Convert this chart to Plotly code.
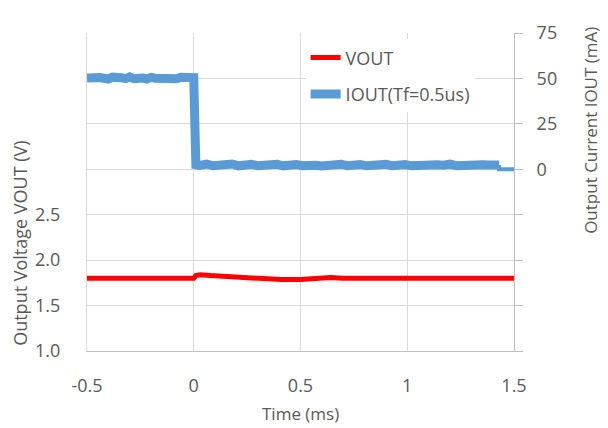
import plotly.graph_objects as go

# VOUT (V) vs time (ms)
vout_t = [-0.5, 0.0, 0.01, 0.03, 0.08, 0.17, 0.3, 0.41, 0.5, 0.53, 0.56, 0.64, 0.7, 1.0, 1.5]
vout_v = [1.80, 1.80, 1.83, 1.84, 1.83, 1.815, 1.80, 1.786, 1.786, 1.79, 1.80, 1.81, 1.80, 1.80, 1.80]

# IOUT (mA) vs time (ms)
iout_t = [-0.5, -0.48, -0.46, -0.44, -0.42, -0.4, -0.38, -0.36, -0.34, -0.32, -0.3, -0.28,
          -0.26, -0.24, -0.22, -0.2, -0.18, -0.16, -0.14, -0.12, -0.1, -0.08, -0.06, -0.04,
          -0.02, 0.0, 0.004, 0.01,
          0.03, 0.06, 0.09, 0.12, 0.15, 0.18, 0.21, 0.24, 0.27, 0.3, 0.33, 0.36, 0.39, 0.42,
          0.45, 0.48, 0.51, 0.54, 0.57, 0.6, 0.63, 0.66, 0.69, 0.72, 0.75, 0.78, 0.81, 0.84,
          0.87, 0.9, 0.93, 0.96, 0.99, 1.02, 1.05, 1.08, 1.11, 1.14, 1.17, 1.2, 1.23, 1.26,
          1.29, 1.32, 1.35, 1.38, 1.41, 1.43]
iout_ma = [50.2, 50.6, 49.8, 50.5, 50.1, 49.7, 50.7, 50.0, 50.4, 49.9, 50.8, 49.8,
           50.5, 50.2, 49.7, 50.6, 50.1, 49.9, 50.7, 50.0, 50.3, 49.8, 50.6, 50.2,
           50.5, 50.4, 30.0, 2.5,
           2.1, 2.8, 2.0, 2.6, 2.3, 2.9, 1.9, 2.5, 2.7, 2.0, 2.6, 2.2, 2.8, 1.9,
           2.4, 2.6, 2.0, 2.7, 2.2, 1.8, 2.5, 2.3, 2.8, 2.0, 2.4, 2.6, 1.9, 2.5,
           2.2, 2.7, 2.0, 2.4, 2.6, 1.9, 2.3, 2.7, 2.1, 2.5, 2.2, 2.8, 2.0, 2.4,
           2.6, 2.1, 2.5, 2.3, 2.7, 2.4]
# tail after the noisy record stops
tail_t = [1.43, 1.43, 1.5]
tail_ma = [2.4, 0.0, 0.0]

vout_ticks = [1.0, 1.5, 2.0, 2.5, 3.0, 3.5, 4.0, 4.5]
vout_labels = ["1.0", "1.5", "2.0", "2.5", "", "", "", ""]
iout_ticks = [-100, -75, -50, -25, 0, 25, 50, 75]
iout_labels = ["", "", "", "", "0", "25", "50", "75"]
time_ticks = [-0.5, 0, 0.5, 1, 1.5]
time_labels = ["-0.5", "0", "0.5", "1", "1.5"]

grey = "#595959"
font = "Open Sans"
blue = "#5b9bd5"

fig = go.Figure()
fig.add_trace(go.Scatter(x=vout_t, y=vout_v, mode="lines", name="VOUT",
                         line=dict(color="#ff0000", width=5), legendgroup="a"))
fig.add_trace(go.Scatter(x=iout_t, y=iout_ma, mode="lines", name="IOUT(Tf=0.5us)",
                         line=dict(color=blue, width=9), yaxis="y2", legendgroup="b"))
fig.add_trace(go.Scatter(x=tail_t, y=tail_ma, mode="lines", showlegend=False,
                         line=dict(color=blue, width=4), yaxis="y2", legendgroup="b"))

# page body has an 8px margin, so the figure is 8px smaller
fig.update_layout(
    width=600, height=420,
    margin=dict(l=79, r=94, t=21, b=77),
    paper_bgcolor="white", plot_bgcolor="white",
    font=dict(family=font, size=18, color=grey),
    showlegend=True,
    xaxis=dict(range=[-0.5, 1.5], tickvals=time_ticks, ticktext=time_labels,
               showgrid=True, gridcolor="#d9d9d9", zeroline=False,
               showline=True, linecolor="#bfbfbf", ticks="", ticklabelstandoff=18),
    yaxis=dict(range=[1.0, 4.5], tickvals=vout_ticks, ticktext=vout_labels,
               showgrid=True, gridcolor="#d9d9d9", zeroline=False,
               showline=True, linecolor="#d9d9d9", ticks="", ticklabelstandoff=22),
    yaxis2=dict(range=[-100, 75], tickvals=iout_ticks, ticktext=iout_labels,
                overlaying="y", side="right", showgrid=False, zeroline=False,
                showline=True, linecolor="#bfbfbf", ticks="outside", ticklen=8,
                tickcolor="#bfbfbf", ticklabelstandoff=10),
    legend=dict(x=0.512, y=0.98, xanchor="left", yanchor="top", bgcolor="white",
                font=dict(size=18, color=grey), tracegroupgap=10, traceorder="grouped"),
    annotations=[
        dict(text="Output Voltage VOUT (V)", x=-0.157, y=0.34, xref="paper", yref="paper",
             xanchor="center", yanchor="middle",
             textangle=-90, showarrow=False, font=dict(size=18, color=grey)),
        dict(text="Output Current IOUT (mA)", x=1.18, y=0.695, xref="paper", yref="paper",
             xanchor="center", yanchor="middle",
             textangle=-90, showarrow=False, font=dict(size=17, color=grey)),
        dict(text="Time (ms)", x=0.5, y=-0.198, xref="paper", yref="paper",
             xanchor="center", yanchor="middle",
             showarrow=False, font=dict(size=17, color=grey)),
    ],
)

fig.write_html("out.html")
